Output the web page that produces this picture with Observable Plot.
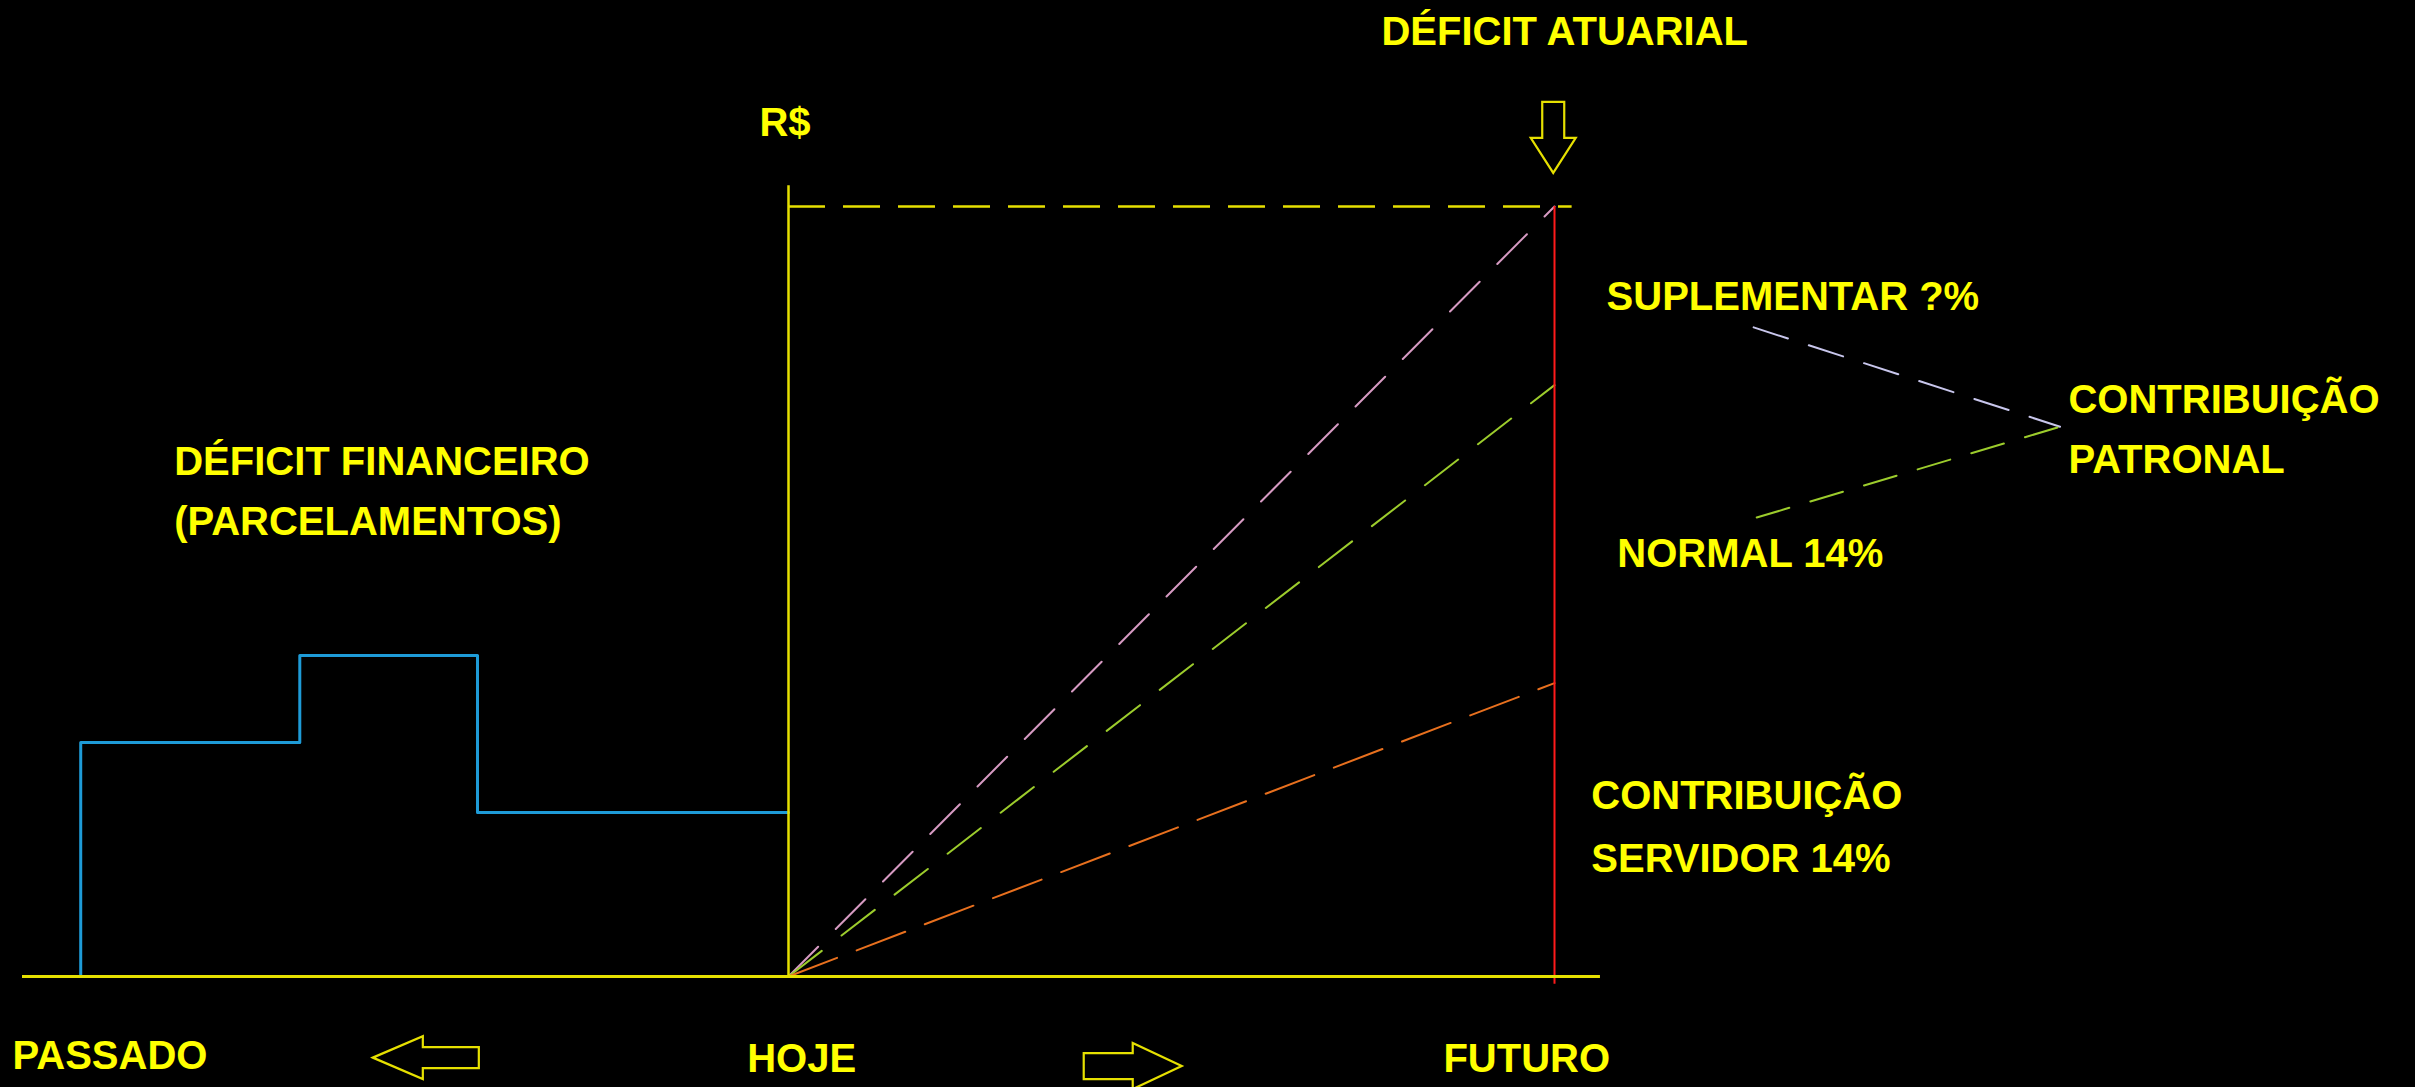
<!DOCTYPE html>
<html><head><meta charset="utf-8">
<script src="https://cdn.jsdelivr.net/npm/d3@7"></script>
<script src="https://cdn.jsdelivr.net/npm/@observablehq/plot@0.6"></script>
<style>html,body{margin:0;padding:0;background:#000;overflow:hidden}</style>
</head><body><div id="chart"></div>
<script>
// Time axis: -1 = past (PASSADO), 0 = today (HOJE), 1 = future (FUTURO)
// Value axis: R$, with the actuarial deficit = 100
const timelineX = [-1, 1.06];
const todayX = 0;
const futureX = 1;
const deficitAtuarial = 100;
const axisTopY = 102.7;

// Contribution lines from today (0) to the future (1)
const contribNames = ["SUPLEMENTAR", "NORMAL", "SERVIDOR"];
const contribStart = [0, 0, 0];
const contribEnd = [100, 76.8, 38.1];

// Financial deficit (parcelamentos) step line
const parcelX = [-0.924, -0.924, -0.638, -0.406, 0];
const parcelY = [0, 30.4, 41.7, 21.3, 21.3];

// Leader lines for "CONTRIBUIÇÃO PATRONAL"
const leaderFromX = [1.260, 1.264];
const leaderFromY = [84.3, 59.6];
const leaderToX = 1.66;
const leaderToY = 71.4;

// Text labels
const labelText = ["DÉFICIT ATUARIAL", "R$", "DÉFICIT FINANCEIRO", "(PARCELAMENTOS)",
  "SUPLEMENTAR ?%", "CONTRIBUIÇÃO", "PATRONAL", "NORMAL 14%",
  "CONTRIBUIÇÃO", "SERVIDOR 14%", "PASSADO", "HOJE", "FUTURO"];
const labelX = [0.774, -0.038, -0.802, -0.802, 1.068, 1.671, 1.671, 1.082, 1.048, 1.048, -1.013, -0.054, 0.855];
const labelY = [122.6, 110.8, 66.8, 59.0, 88.2, 74.9, 67.0, 54.9, 23.4, 15.3, -10.4, -10.8, -10.8];

// Hollow arrows (tip positions)
const arrowDir = ["left", "right", "down"];
const arrowX = [-0.542, 0.514, 0.999];
const arrowY = [-10.6, -11.7, 104.3];

// ---- build tables from the arrays ----
const contribLines = contribNames.flatMap((name, i) => [
  {name, x: todayX, y: contribStart[i]},
  {name, x: futureX, y: contribEnd[i]}
]);
const parcel = parcelX.map((x, i) => ({x, y: parcelY[i]}));
const leaders = leaderFromX.flatMap((x, i) => [
  {id: i, x, y: leaderFromY[i]},
  {id: i, x: leaderToX, y: leaderToY}
]);
const labels = labelText.map((t, i) => ({t, x: labelX[i], y: labelY[i]}));
const arrows = arrowDir.map((dir, i) => ({dir, x: arrowX[i], y: arrowY[i]}));

const YEL = "#e6e000";
const TXT = "#ffff00";
const contribColor = {SUPLEMENTAR: "#d69ac2", NORMAL: "#9ccc2c", SERVIDOR: "#e8701e"};
const contribDash = {SUPLEMENTAR: "42,25", NORMAL: "42,25", SERVIDOR: "52,21"};
const arrowSize = {
  left: {head: 50, headHalf: 21.5, shaft: 56, shaftHalf: 10.5},
  right: {head: 49, headHalf: 23, shaft: 49, shaftHalf: 13},
  down: {head: 35, headHalf: 22.5, shaft: 36, shaftHalf: 11}
};

function arrowMark(index, scales) {
  const g = d3.create("svg:g");
  for (const a of arrows) {
    const s = arrowSize[a.dir];
    const tx = scales.x(a.x), ty = scales.y(a.y);
    const pts = [[0, 0], [-s.head, -s.headHalf], [-s.head, -s.shaftHalf],
      [-s.head - s.shaft, -s.shaftHalf], [-s.head - s.shaft, s.shaftHalf],
      [-s.head, s.shaftHalf], [-s.head, s.headHalf]];
    const angle = {right: 0, left: 180, down: 90}[a.dir];
    g.append("polygon")
      .attr("points", pts.map(p => p.join(",")).join(" "))
      .attr("transform", `translate(${tx},${ty}) rotate(${angle})`)
      .attr("fill", "none").attr("stroke", YEL).attr("stroke-width", 2.2)
      .attr("stroke-linejoin", "miter");
  }
  return g.node();
}

const chart = Plot.plot({
  width: 2415,
  height: 1087,
  margin: 0,
  style: {background: "#000", overflow: "visible"},
  x: {type: "linear", domain: [-1, 1], range: [22, 1554], axis: null},
  y: {type: "linear", domain: [0, 100], range: [976, 206], axis: null},
  marks: [
    // top dashed deficit line
    Plot.ruleY([deficitAtuarial], {x1: todayX, x2: 1.023, stroke: YEL, strokeWidth: 2.5, strokeDasharray: "37,18"}),
    // financial deficit steps
    Plot.line(parcel, {x: "x", y: "y", curve: "step-after", stroke: "#1e9bd7", strokeWidth: 3}),
    // contribution lines
    ...contribNames.map(n => Plot.line(contribLines.filter(d => d.name === n), {
      x: "x", y: "y", stroke: contribColor[n], strokeWidth: 2, strokeDasharray: contribDash[n]
    })),
    // leader lines
    Plot.line(leaders.filter(d => d.id === 0), {x: "x", y: "y", stroke: "#c8c6ec", strokeWidth: 2, strokeDasharray: "36,22"}),
    Plot.line(leaders.filter(d => d.id === 1), {x: "x", y: "y", stroke: "#9ccc2c", strokeWidth: 2, strokeDasharray: "34,22"}),
    // red future line
    Plot.ruleX([futureX], {y1: -1, y2: deficitAtuarial, stroke: "#ff1a1a", strokeWidth: 2}),
    // R$ axis (today)
    Plot.ruleX([todayX], {y1: 0, y2: axisTopY, stroke: YEL, strokeWidth: 2.5}),
    // time axis baseline
    Plot.ruleY([0], {x1: timelineX[0], x2: timelineX[1], stroke: YEL, strokeWidth: 3}),
    // labels
    Plot.text(labels, {x: "x", y: "y", text: "t", textAnchor: "start", lineAnchor: "middle",
      fill: TXT, fontSize: 40, fontWeight: "bold", fontFamily: "'Liberation Sans', Arial, sans-serif"}),
    arrowMark
  ]
});
document.getElementById("chart").append(chart);
</script>
</body></html>
